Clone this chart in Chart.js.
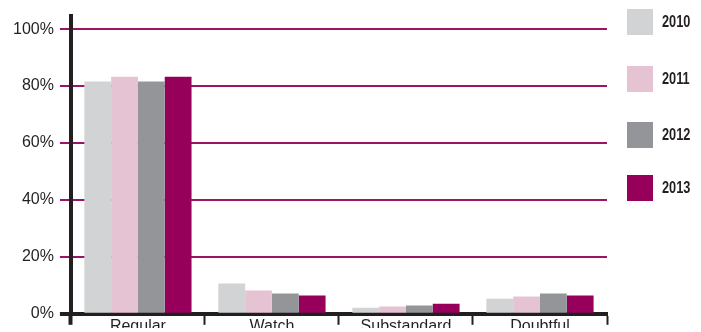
<!DOCTYPE html>
<html>
<head>
<meta charset="utf-8">
<script src="https://cdn.jsdelivr.net/npm/chart.js@4"></script>
<style>
  html, body { margin: 0; padding: 0; background: #fff; }
  #wrap { width: 701px; height: 332px; }
</style>
</head>
<body>
<div id="wrap"><canvas id="grafico"></canvas></div>
<script>
// categorias e valores (% do total)
const categorias = ["Regular", "Watch", "Substandard", "Doubtful"];
const anos = ["2010", "2011", "2012", "2013"];
const v2010 = [81.6, 10.6, 2.1, 5.3];
const v2011 = [83.3, 8.2, 2.6, 6.1];
const v2012 = [81.6, 7.1, 2.9, 7.1];
const v2013 = [83.3, 6.4, 3.5, 6.4];
const ticksY = [0, 20, 40, 60, 80, 100];

const cores = ["#d1d3d4", "#e6c3d3", "#939598", "#97005a"];
const magenta = "#9c1464";
const preto = "#231f20";

const series = [v2010, v2011, v2012, v2013];
const datasets = anos.map((ano, i) => ({
    label: ano,
    data: series[i],
    backgroundColor: cores[i],
    borderWidth: 0,
    barPercentage: 1.0,
    categoryPercentage: 0.8
}));

// legenda desenhada à direita, caixas grandes com o ano ao lado (texto condensado)
const legendaLateral = {
    id: "legendaLateral",
    afterDraw(chart) {
        const ctx = chart.ctx;
        const x = chart.chartArea.right + 20;
        const tops = [9, 66, 122, 175];
        ctx.save();
        ctx.font = "bold 17px 'Liberation Sans', Arial, sans-serif";
        ctx.textBaseline = "middle";
        chart.data.datasets.forEach((ds, i) => {
            ctx.fillStyle = ds.backgroundColor;
            ctx.fillRect(x, tops[i], 26, 26);
            ctx.save();
            ctx.translate(x + 35, tops[i] + 13);
            ctx.scale(0.75, 1);
            ctx.fillStyle = preto;
            ctx.fillText(ds.label, 0, 0);
            ctx.restore();
        });
        ctx.restore();
    }
};

new Chart(document.getElementById("grafico"), {
    type: "bar",
    data: { labels: categorias, datasets },
    plugins: [legendaLateral],
    options: {
        responsive: true,
        maintainAspectRatio: false,
        animation: false,
        layout: { padding: { top: 16, right: 94, left: 7, bottom: 4 } },
        plugins: {
            legend: { display: false },
            tooltip: { enabled: false }
        },
        scales: {
            x: {
                grid: {
                    display: true,
                    drawOnChartArea: false,
                    drawTicks: true,
                    tickLength: 11,
                    tickColor: preto,
                    tickWidth: c => (c.index === 0 ? 4 : 2)
                },
                border: { display: true, color: preto, width: 4 },
                ticks: {
                    color: preto,
                    padding: -8,
                    font: { family: "'Liberation Sans', Arial, sans-serif", size: 16 }
                }
            },
            y: {
                min: 0,
                max: 104.6,
                afterBuildTicks: s => { s.ticks = ticksY.map(v => ({ value: v })); },
                grid: {
                    color: magenta,
                    lineWidth: 2,
                    tickLength: 11,
                    tickColor: c => (c.index === 0 ? preto : magenta),
                    tickWidth: c => (c.index === 0 ? 4 : 2)
                },
                border: { display: true, color: preto, width: 4 },
                ticks: {
                    color: preto,
                    padding: 6,
                    font: { family: "'Liberation Sans', Arial, sans-serif", size: 16 },
                    callback: v => v + "%"
                }
            }
        }
    }
});
</script>
</body>
</html>
